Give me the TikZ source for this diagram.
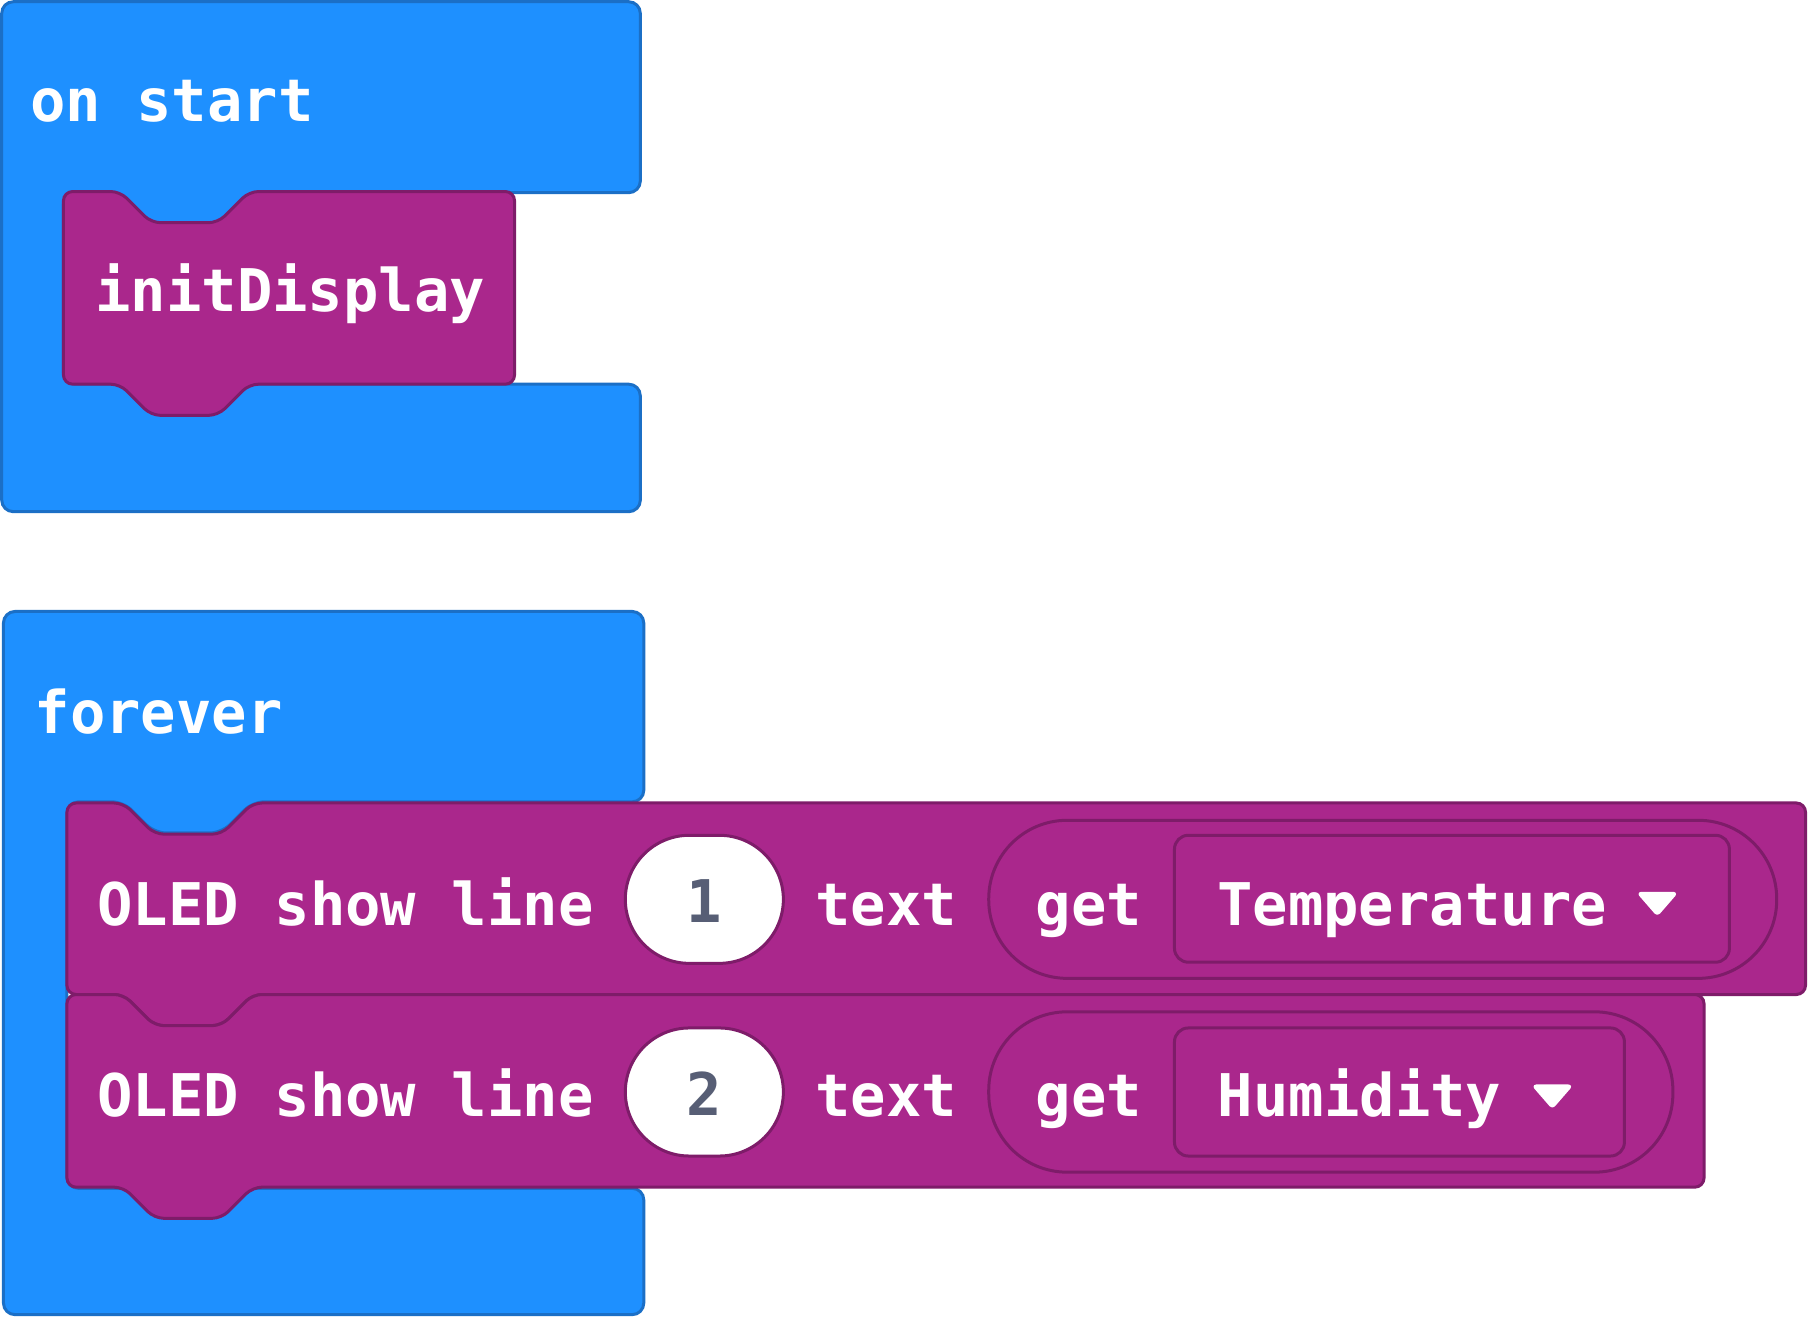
\documentclass[tikz,border=0pt]{standalone}
\usepackage{fontspec}
\setmonofont{DejaVu Sans Mono}

\definecolor{evblue}{HTML}{1E90FF}
\definecolor{evblueedge}{HTML}{1B6FC6}
\definecolor{oledfill}{HTML}{AA278C}
\definecolor{olededge}{HTML}{7E1C69}
\definecolor{numtext}{HTML}{575E75}

\newcommand\blockfont{\ttfamily\bfseries\fontsize{51}{60}\selectfont}

\tikzset{
  eventblock/.style={fill=evblue, draw=evblueedge, line width=2.6pt, rounded corners=10},
  stmtblock/.style={fill=oledfill, draw=olededge, line width=2.6pt, rounded corners=8},
  reporter/.style={fill=oledfill, draw=olededge, line width=2.6pt},
  numslot/.style={fill=white, draw=olededge, line width=2.6pt, rounded corners=55.5},
  blocktext/.style={font=\blockfont, text=white, inner sep=0pt, anchor=base},
  numtextstyle/.style={blocktext, text=numtext},
  dropmark/.style={fill=white, draw=white, line width=2pt, line join=round, rounded corners=2.5},
}

% C-shaped hat block: left, top, right, arm bottom, inner left, lower arm top, bottom
\newcommand{\cblock}[7]{%
  \path[eventblock] (#1,{(#2+#7)/2}) -- (#1,#2) -- (#3,#2) -- (#3,#4)
    -- ({#5+161},#4) -- ({#5+134},{#4+27}) -- ({#5+76},{#4+27}) -- ({#5+49},#4)
    -- (#5,#4) -- (#5,#6) -- (#3,#6) -- (#3,#7) -- (#1,#7) -- cycle;}

% statement block with top notch and bottom tab: left, top, right, bottom
\newcommand{\sblock}[4]{%
  \path[stmtblock] (#1,{(#2+#4)/2}) -- (#1,#2) -- ({#1+49},#2) -- ({#1+76},{#2+27})
    -- ({#1+134},{#2+27}) -- ({#1+161},#2) -- (#3,#2) -- (#3,#4)
    -- ({#1+161},#4) -- ({#1+134},{#4+27}) -- ({#1+76},{#4+27}) -- ({#1+49},#4)
    -- (#1,#4) -- cycle;}

\begin{document}
\begin{tikzpicture}[x=1pt,y=-1pt]
\useasboundingbox (0,0) rectangle (1568,1141);

% ---- on start ----
\cblock{1.5}{1.5}{555}{167}{55}{333}{443.5}
\node[blocktext] (onstart) at (149,105) {on start};
\sblock{55}{166}{446}{333}
\node[blocktext] (init) at (251.5,270) {initDisplay};

% ---- forever ----
\cblock{3}{530}{558}{695}{58}{1030}{1139.5}
\node[blocktext] (forever) at (137.5,636) {forever};

% first OLED statement
\sblock{58}{696}{1565}{862}
\node[blocktext] (oled1) at (299.5,802) {OLED show line};
\path[numslot] (542,724) rectangle (679,835);
\node[numtextstyle] (num1) at (610.5,800) {1};
\node[blocktext] (txt1) at (768,802) {text};
\path[reporter, rounded corners=68] (857,711) rectangle (1540,848);
\node[blocktext] (get1) at (944,802) {get};
\path[reporter, rounded corners=12] (1018,724) rectangle (1499,834);
\node[blocktext] (temp) at (1224,802) {Temperature};
\path[dropmark] (1420,774) -- (1453,774) -- (1436.5,793) -- cycle;

% second OLED statement
\sblock{58}{862}{1477}{1029}
\node[blocktext] (oled2) at (299.5,968) {OLED show line};
\path[numslot] (542,891) rectangle (679,1002);
\node[numtextstyle] (num2) at (610.5,967) {2};
\node[blocktext] (txt2) at (768,968) {text};
\path[reporter, rounded corners=68] (857,877) rectangle (1450,1016);
\node[blocktext] (get2) at (944,968) {get};
\path[reporter, rounded corners=12] (1018,891) rectangle (1408,1002);
\node[blocktext] (hum) at (1178.5,968) {Humidity};
\path[dropmark] (1329,941) -- (1362,941) -- (1345.5,960) -- cycle;
\end{tikzpicture}
\end{document}
